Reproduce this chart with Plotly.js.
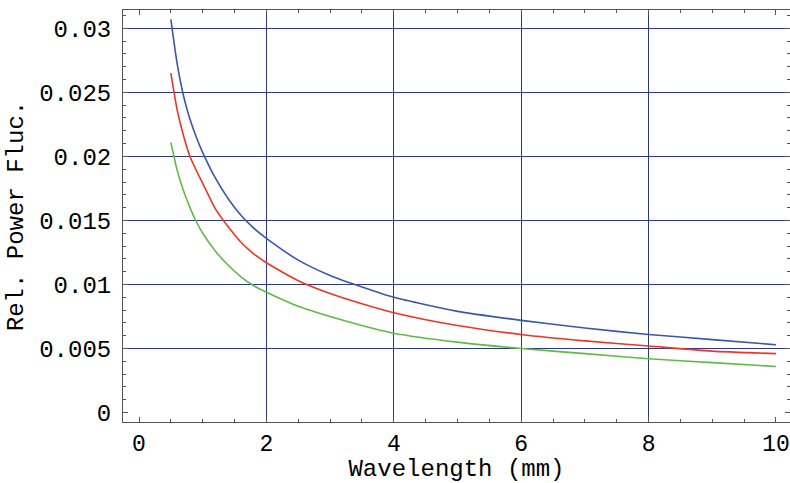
<!DOCTYPE html>
<html>
<head>
<meta charset="utf-8">
<script src="https://cdn.plot.ly/plotly-3.0.1.min.js"></script>
<style>html,body{margin:0;padding:0;background:#fff;}#chart{width:790px;height:483px;}</style>
</head>
<body>
<div id="chart"></div>
<script>
// Wavelength (mm)
const wavelength = [0.5, 0.6, 0.7, 0.8, 0.9, 1.0, 1.2, 1.4, 1.6, 1.8, 2, 2.5, 3, 3.5, 4, 5, 6, 7, 8, 9, 10];
// Relative power fluctuation series
const blueSeries  = [0.0307, 0.0272, 0.0247, 0.0229, 0.0215, 0.0203, 0.0183, 0.0167, 0.0154, 0.0144, 0.0136, 0.0119, 0.0107, 0.0098, 0.0090, 0.0079, 0.0072, 0.0066, 0.0061, 0.0057, 0.0053];
const redSeries   = [0.0265, 0.0236, 0.0216, 0.0200, 0.0189, 0.0179, 0.0159, 0.0145, 0.0133, 0.0124, 0.0117, 0.0103, 0.0093, 0.0085, 0.0078, 0.0068, 0.0061, 0.0056, 0.0052, 0.0048, 0.0046];
const greenSeries = [0.0211, 0.0189, 0.0173, 0.0160, 0.0149, 0.0140, 0.0126, 0.0115, 0.0106, 0.0099, 0.0094, 0.0083, 0.0075, 0.0068, 0.0062, 0.0055, 0.0050, 0.0046, 0.0042, 0.0039, 0.0036];

const xTickVals = [0, 2, 4, 6, 8, 10];
const xTickText = ['0', '2', '4', '6', '8', '10'];
const yTickVals = [0, 0.005, 0.01, 0.015, 0.02, 0.025, 0.03];
const yTickText = ['0', '0.005', '0.01', '0.015', '0.02', '0.025', '0.03'];
const xGridVals = [2, 4, 6, 8];
const yGridVals = [0.005, 0.01, 0.015, 0.02, 0.025, 0.03];

const xRange = [-0.2516, 10.22];
const yRange = [-0.000734, 0.03143];

const FONT = '"Liberation Mono", "Courier New", Courier, monospace';
const GRID = '#2b368c';
const FRAME = '#555555';

const mk = (y, color) => ({
  x: wavelength, y: y, type: 'scatter', mode: 'lines',
  xaxis: 'x2', yaxis: 'y2',
  line: {color: color, width: 1.6, shape: 'spline', smoothing: 0.6}, hoverinfo: 'skip', showlegend: false
});

const data = [
  {x: [], y: [], type: 'scatter', mode: 'lines', xaxis: 'x', yaxis: 'y', showlegend: false, hoverinfo: 'skip'},
  mk(blueSeries, '#3a58a8'),
  mk(redSeries, '#ee3524'),
  mk(greenSeries, '#5fbb45')
];

const layout = {
  width: 790, height: 483,
  margin: {l: 123, r: 0, t: 10, b: 61},
  paper_bgcolor: '#ffffff', plot_bgcolor: '#ffffff',
  showlegend: false,
  font: {family: FONT, color: '#000', size: 24},
  xaxis: {
    range: xRange, tickmode: 'array', tickvals: xTickVals, ticktext: xTickText,
    showgrid: false, zeroline: false,
    showline: true, linecolor: FRAME, linewidth: 1, mirror: 'allticks',
    ticks: 'inside', ticklen: 5, tickcolor: FRAME, tickwidth: 1,
    tickfont: {family: FONT, size: 23, color: '#000'},
    ticklabelstandoff: 0, ticklabeloverflow: 'allow',
    minor: {tick0: 0, dtick: 0.5, ticks: 'inside', ticklen: 3, tickcolor: FRAME, showgrid: false},
    title: {text: 'Wavelength (mm)', font: {family: FONT, size: 24, color: '#000'}, standoff: 9}
  },
  yaxis: {
    range: yRange, tickmode: 'array', tickvals: yTickVals, ticktext: yTickText,
    showgrid: false, zeroline: false,
    showline: true, linecolor: FRAME, linewidth: 1, mirror: 'allticks',
    ticks: 'inside', ticklen: 5, tickcolor: FRAME, tickwidth: 1,
    tickfont: {family: FONT, size: 24, color: '#000'},
    ticklabelstandoff: 6, ticklabeloverflow: 'allow',
    minor: {tick0: 0, dtick: 0.001, ticks: 'inside', ticklen: 3, tickcolor: FRAME, showgrid: false},
    title: {text: 'Rel. Power Fluc.', font: {family: FONT, size: 24, color: '#000'}, standoff: 8}
  },
  xaxis2: {
    overlaying: 'x', range: xRange, tickmode: 'array', tickvals: xGridVals,
    showgrid: true, gridcolor: GRID, gridwidth: 1, zeroline: false,
    showticklabels: false, ticks: '', showline: false
  },
  yaxis2: {
    overlaying: 'y', range: yRange, tickmode: 'array', tickvals: yGridVals,
    showgrid: true, gridcolor: GRID, gridwidth: 1, zeroline: false,
    showticklabels: false, ticks: '', showline: false, side: 'left'
  }
};

Plotly.newPlot('chart', data, layout, {staticPlot: true, displayModeBar: false});
</script>
</body>
</html>
